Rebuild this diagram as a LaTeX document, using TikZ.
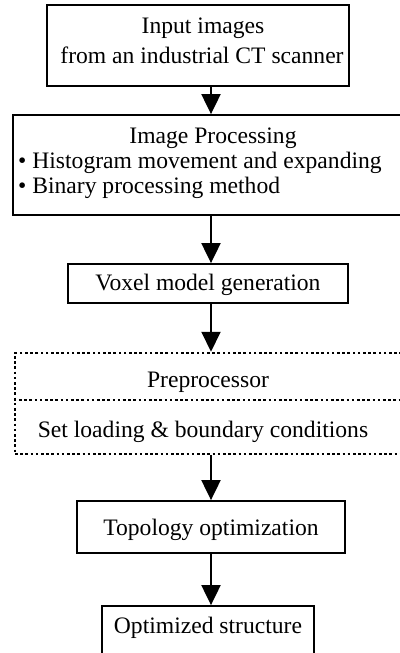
\documentclass[tikz,border=0pt]{standalone}
\usepackage{fontspec}
\setmainfont{Liberation Serif}
\usetikzlibrary{arrows.meta}

\begin{document}
\begin{tikzpicture}[x=1pt,y=-1pt,
    stage/.style={draw=black, line width=1.8pt, inner sep=0pt},
    dotstage/.style={draw=black, line width=2.5pt, dash pattern=on 2.6pt off 2.6pt, inner sep=0pt},
    txt/.style={anchor=base, inner sep=0pt, font=\fontsize{23.6}{28}\selectfont},
    flow/.style={draw=black, line width=2pt, -{Triangle[width=19pt,length=20pt]}}]
        \useasboundingbox (0,0) rectangle (399,653);
        \coordinate (spine) at (211,0);

        % boxes
        \node[stage, minimum width=302pt, minimum height=81pt] (input) at (198,45.5) {};
        \node[stage, minimum width=392pt, minimum height=100pt] (proc) at (209,165) {};
        \node[stage, minimum width=280pt, minimum height=39pt] (voxel) at (208,283.5) {};
        \node[dotstage, minimum width=390pt, minimum height=101pt] (prep) at (210,403.5) {};
        \draw[dotstage] (prep.west |- 0,400) -- (prep.east |- 0,400);
        \node[stage, minimum width=268pt, minimum height=52pt] (topo) at (211,527) {};
        \node[stage, minimum width=212pt, minimum height=60pt] (final) at (208,636) {};

        % texts
        \node[txt] (inputA) at (203,33) {Input images};
        \node[txt] (inputB) at (202,63) {from an industrial CT scanner};
        \node[txt] (procA) at (213,143) {Image Processing};
        \node[txt, anchor=base west] (procB) at (18,168) {\textbullet\ Histogram movement and expanding};
        \node[txt, anchor=base west] (procC) at (18,193) {\textbullet\ Binary processing method};
        \node[txt] (voxelA) at (208,290) {Voxel model generation};
        \node[txt] (prepA) at (208,387) {Preprocessor};
        \node[txt] (prepB) at (203,437) {Set loading \& boundary conditions};
        \node[txt] (topoA) at (211,535) {Topology optimization};
        \node[txt] (finalA) at (208,633) {Optimized structure};

        % arrows
        \draw[flow] (input.south -| spine) -- (proc.north -| spine);
        \draw[flow] (proc.south -| spine) -- (voxel.north -| spine);
        \draw[flow] (voxel.south -| spine) -- (prep.north -| spine);
        \draw[flow] (prep.south -| spine) -- (topo.north -| spine);
        \draw[flow] (topo.south -| spine) -- (final.north -| spine);

\end{tikzpicture}
\end{document}
